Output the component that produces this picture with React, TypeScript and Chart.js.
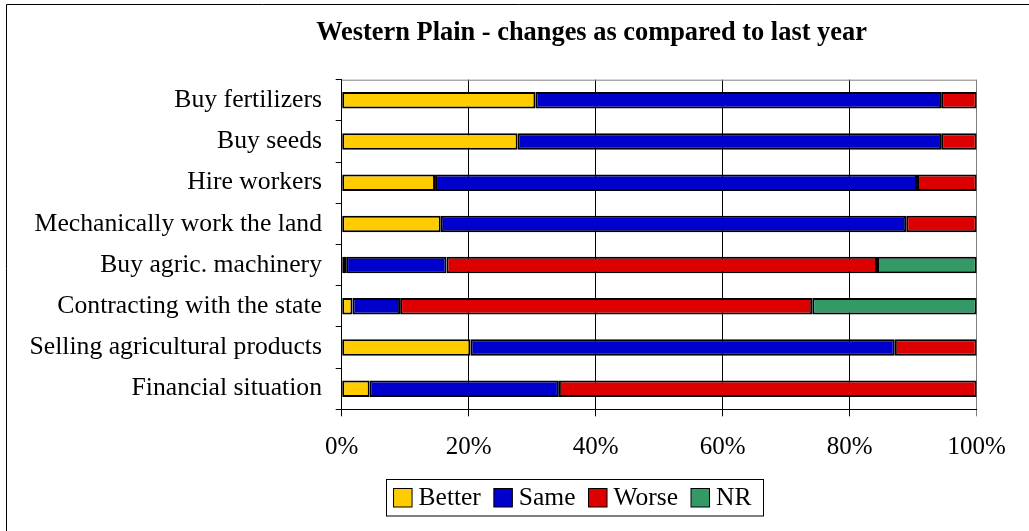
import React, { useEffect, useRef } from "react";
import { Chart, registerables } from "chart.js";

Chart.register(...registerables);

const categories = [
  "Buy fertilizers",
  "Buy seeds",
  "Hire workers",
  "Mechanically work the land",
  "Buy agric. machinery",
  "Contracting with the state",
  "Selling agricultural products",
  "Financial situation",
];
const seriesNames = ["Better", "Same", "Worse", "NR"];
const seriesColors = ["#FFCC00", "#0000CC", "#DD0000", "#339966"];
const better = [30.5, 27.7, 14.7, 15.6, 0.7, 1.7, 20.3, 4.4];
const same = [63.9, 66.7, 75.9, 73.3, 15.8, 7.5, 66.8, 29.8];
const worse = [5.6, 5.6, 9.4, 11.1, 67.8, 64.9, 12.9, 65.8];
const nr = [null, null, null, null, 15.7, 25.9, null, null];
const titleText = "Western Plain - changes as compared to last year";

const FONT = "'Liberation Serif', 'Times New Roman', serif";

const decorPlugin = {
  id: "decor",
  beforeDraw(chart: any) {
    const ctx = chart.ctx;
    ctx.save();
    ctx.fillStyle = "#ffffff";
    ctx.fillRect(0, 0, chart.width, chart.height);
    ctx.restore();
  },
  afterDraw(chart: any) {
    const ctx = chart.ctx;
    const ca = chart.chartArea;
    ctx.save();
    // outer frame (top and left visible)
    ctx.strokeStyle = "#000";
    ctx.lineWidth = 1;
    ctx.beginPath();
    ctx.moveTo(6.5, chart.height + 5);
    ctx.lineTo(6.5, 4.5);
    ctx.lineTo(chart.width + 5, 4.5);
    ctx.stroke();
    // plot top border
    ctx.strokeStyle = "#808080";
    ctx.beginPath();
    ctx.moveTo(ca.left, ca.top + 0.5);
    ctx.lineTo(ca.right, ca.top + 0.5);
    ctx.stroke();
    // title
    ctx.fillStyle = "#000";
    ctx.font = "bold 26.4px " + FONT;
    ctx.textAlign = "center";
    ctx.textBaseline = "alphabetic";
    ctx.fillText(titleText, 591.5, 39.5);
    // legend
    ctx.font = "25.5px " + FONT;
    ctx.textAlign = "left";
    const sq = 18.5;
    const gapText = 6.5;
    const gapItem = 13;
    const padL = 8;
    const padR = 11;
    const widths = chart.data.datasets.map((d: any) => ctx.measureText(d.label).width);
    let total = padL + padR;
    widths.forEach((w: number, i: number) => {
      total += sq + gapText + w + (i < widths.length - 1 ? gapItem : 0);
    });
    const cx = 574;
    const boxL = cx - total / 2;
    const boxT = 479.5;
    const boxH = 36.5;
    ctx.strokeStyle = "#000";
    ctx.lineWidth = 1;
    ctx.strokeRect(Math.round(boxL) + 0.5, boxT, Math.round(total), boxH);
    let x = boxL + padL;
    const midY = boxT + boxH / 2;
    chart.data.datasets.forEach((d: any, i: number) => {
      ctx.fillStyle = d.backgroundColor;
      ctx.fillRect(x, midY - sq / 2, sq, sq);
      ctx.strokeStyle = "#000";
      ctx.strokeRect(x, midY - sq / 2, sq, sq);
      ctx.fillStyle = "#000";
      ctx.textBaseline = "middle";
      ctx.fillText(d.label, x + sq + gapText, midY + 1);
      x += sq + gapText + widths[i] + gapItem;
    });
    ctx.restore();
  },
};

export default function App() {
  const ref = useRef<HTMLCanvasElement | null>(null);
  useEffect(() => {
    if (!ref.current) return;
    const data = [better, same, worse, nr];
    const chart = new Chart(ref.current, {
      type: "bar",
      data: {
        labels: categories,
        datasets: seriesNames.map((name, i) => ({
          label: name,
          data: data[i] as any,
          backgroundColor: seriesColors[i],
          borderColor: "#000",
          borderWidth: 2,
          borderSkipped: false,
          barPercentage: 0.4,
          categoryPercentage: 1,
        })),
      },
      plugins: [decorPlugin],
      options: {
        indexAxis: "y",
        responsive: false,
        animation: false,
        devicePixelRatio: 1,
        layout: { padding: { top: 79.7, left: 0, right: 52.3, bottom: 0 } },
        plugins: {
          legend: { display: false },
          title: { display: false },
          tooltip: { enabled: false },
        },
        scales: {
          x: {
            type: "linear",
            stacked: true,
            min: 0,
            max: 100,
            ticks: {
              stepSize: 20,
              callback: (v: any) => v + "%",
              color: "#000",
              font: { family: FONT, size: 25 },
              padding: 16,
              maxRotation: 0,
            },
            grid: {
              color: (c: any) => (c.tick && c.tick.value === 100 ? "#808080" : "#000"),
              lineWidth: 1,
              tickLength: 7,
              drawOnChartArea: true,
              drawTicks: true,
            },
            border: { display: true, color: "#000", width: 1 },
            afterFit: (scale: any) => {
              scale.height = 531 - 409.3;
            },
          },
          y: {
            type: "category",
            stacked: true,
            offset: true,
            ticks: {
              color: "#000",
              font: { family: FONT, size: 25.7 },
              padding: 13.7,
              autoSkip: false,
            },
            grid: {
              offset: true,
              drawOnChartArea: false,
              drawTicks: true,
              tickLength: 6,
              color: "#000",
            },
            border: { display: true, color: "#000", width: 1 },
            afterFit: (scale: any) => {
              scale.width = 341.7;
            },
          },
        },
      } as any,
    });
    return () => chart.destroy();
  }, []);
  return (
    <div style={{ position: "absolute", left: 0, top: 0, width: 1029, height: 531 }}>
      <canvas ref={ref} width={1029} height={531} style={{ display: "block" }} />
    </div>
  );
}
